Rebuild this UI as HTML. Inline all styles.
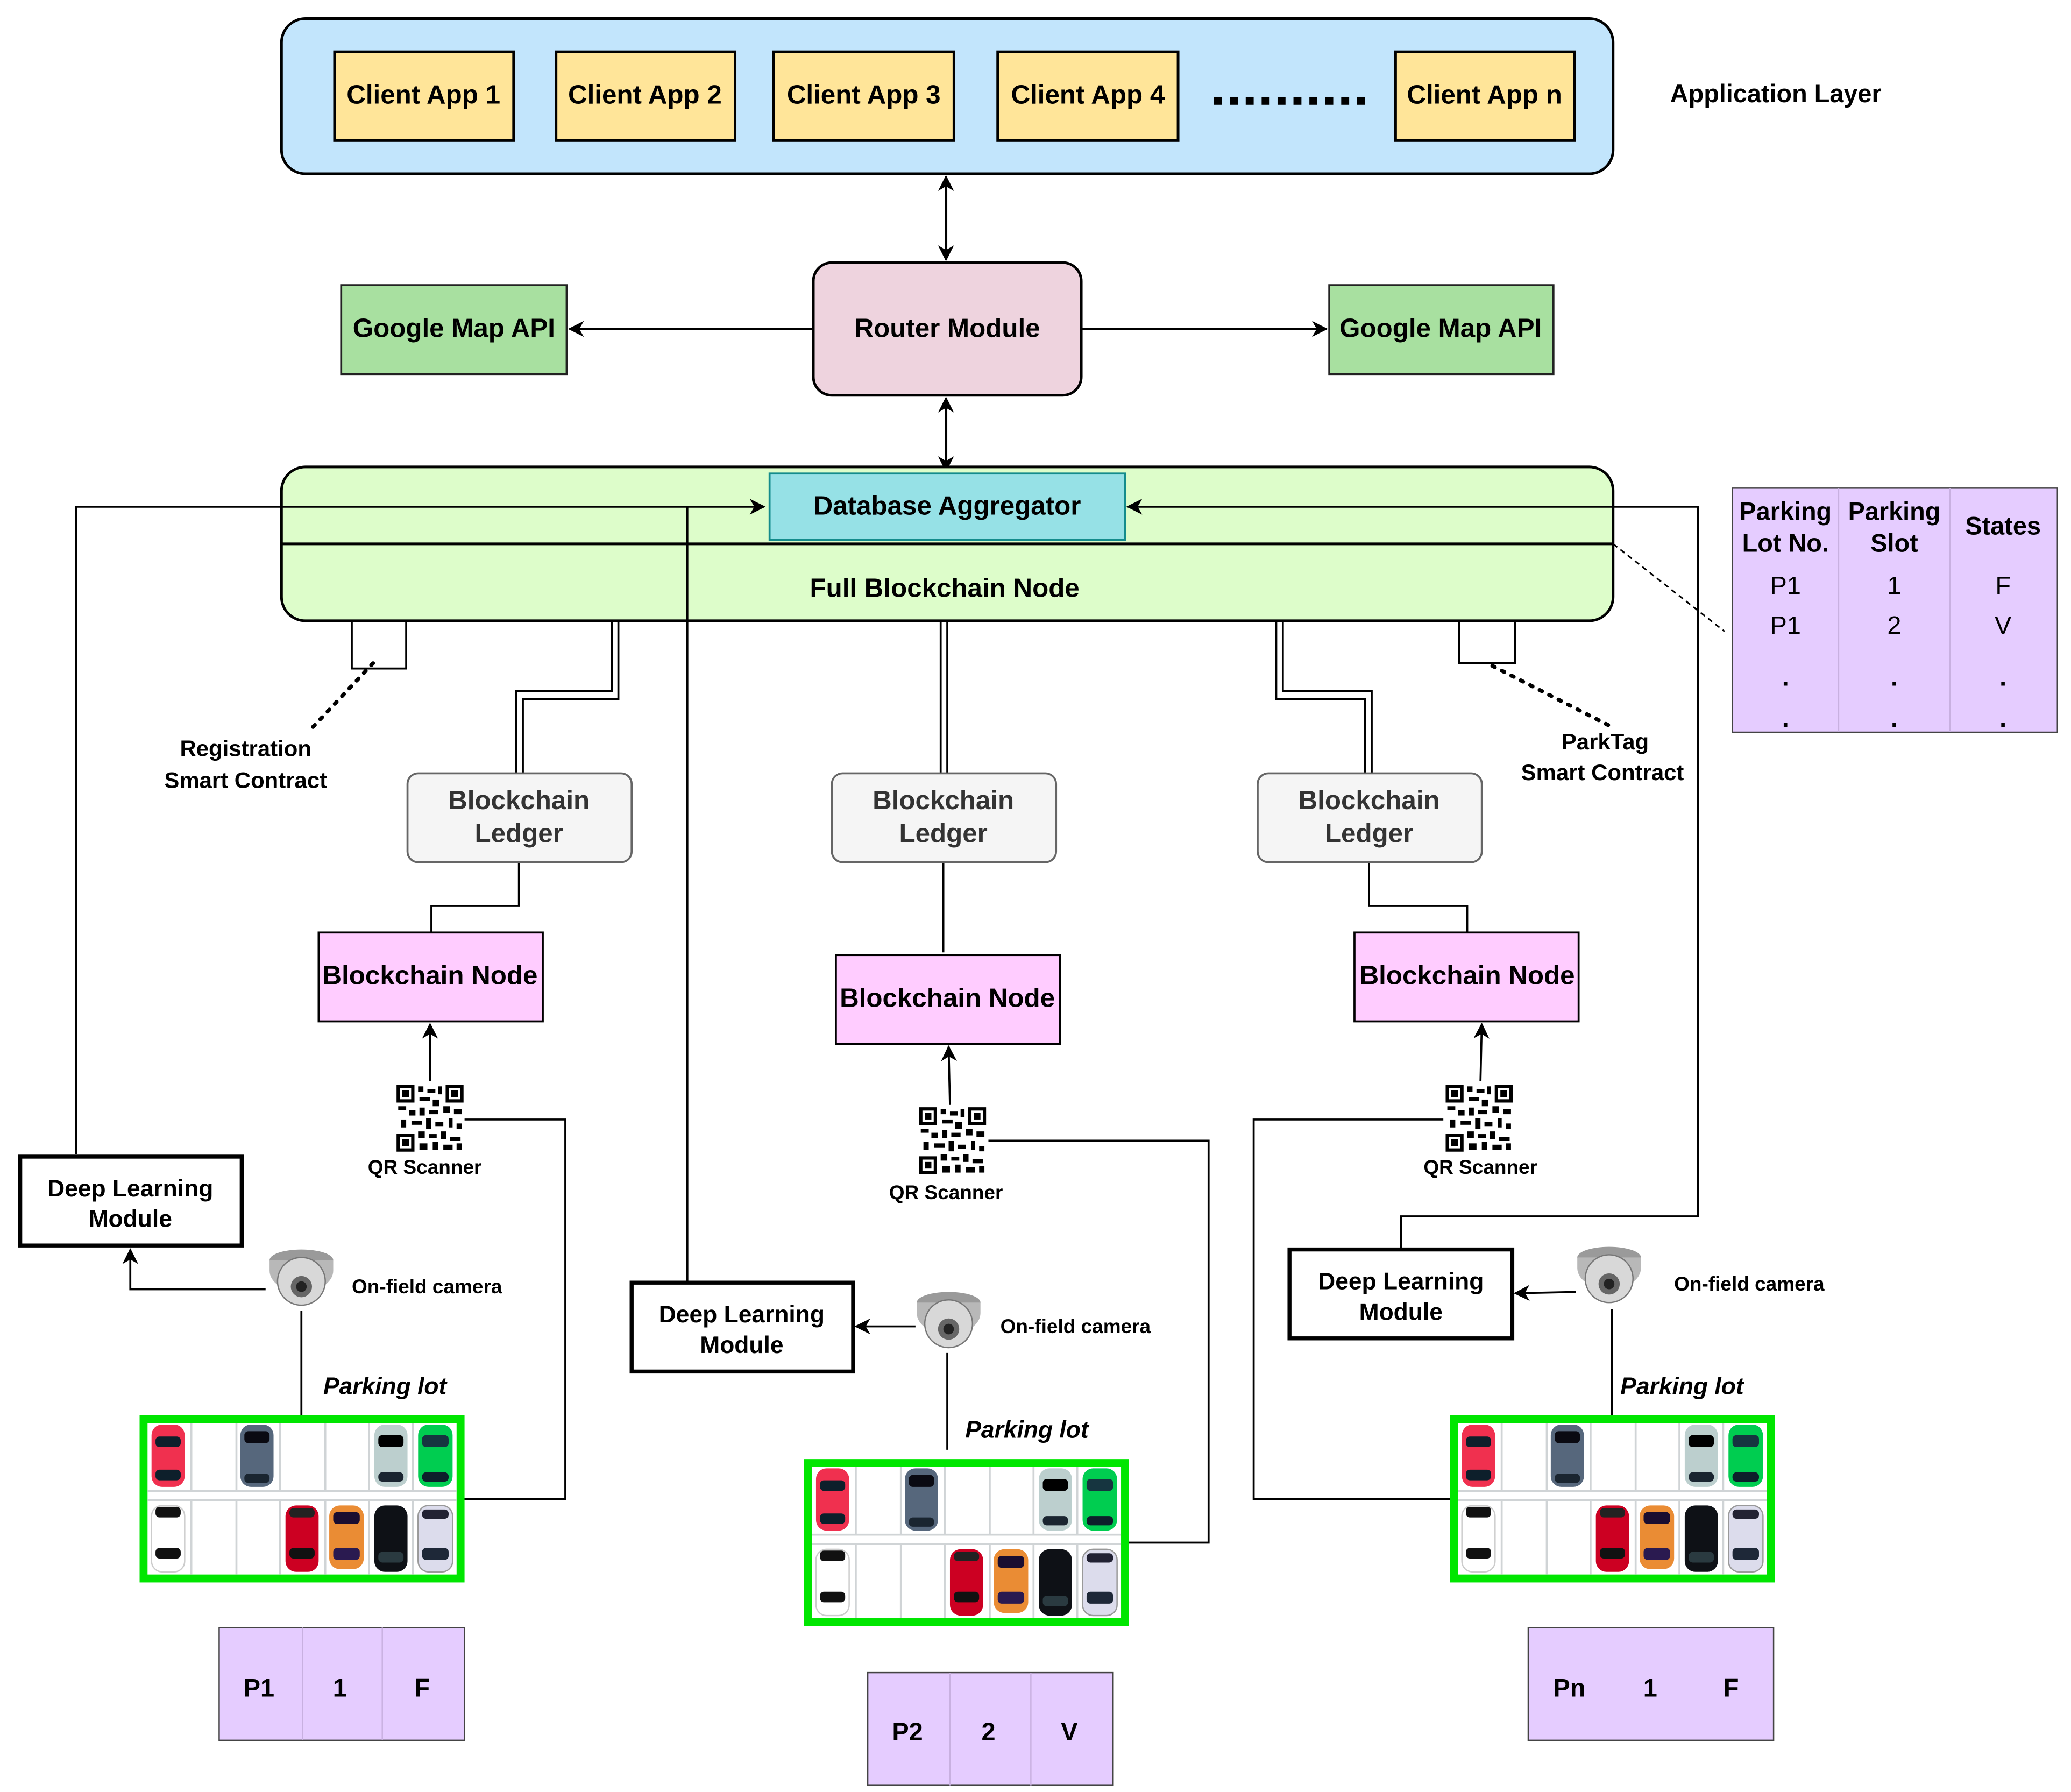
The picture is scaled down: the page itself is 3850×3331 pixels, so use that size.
<!DOCTYPE html>
<html><head><meta charset="utf-8"><style>html,body{margin:0;padding:0;background:#fff}svg{display:block}text{font-family:"Liberation Sans",sans-serif;font-weight:bold;fill:#000}</style></head><body>
<svg width="3850" height="3331" viewBox="0 0 1561 1351" xmlns="http://www.w3.org/2000/svg">
<defs>
<marker id="ar" markerWidth="12" markerHeight="12" refX="11" refY="6" orient="auto-start-reverse" markerUnits="userSpaceOnUse"><path d="M0,0 L12,6 L0,12 L3.5,6 Z" fill="#000"/></marker>
<g id="lot">
<rect x="3" y="3" width="239" height="120" fill="#fff" stroke="#00e600" stroke-width="6"/>
<g stroke="#d0d4d6" stroke-width="1.5">
<line x1="6" y1="57" x2="239" y2="57"/><line x1="6" y1="64" x2="239" y2="64"/>
<line x1="39" y1="6" x2="39" y2="57"/><line x1="73" y1="6" x2="73" y2="57"/><line x1="106" y1="6" x2="106" y2="57"/><line x1="140" y1="6" x2="140" y2="57"/><line x1="173" y1="6" x2="173" y2="57"/><line x1="206" y1="6" x2="206" y2="57"/>
<line x1="39" y1="64" x2="39" y2="120"/><line x1="73" y1="64" x2="73" y2="120"/><line x1="106" y1="64" x2="106" y2="120"/><line x1="140" y1="64" x2="140" y2="120"/><line x1="173" y1="64" x2="173" y2="120"/><line x1="206" y1="64" x2="206" y2="120"/>
</g>
<rect x="9" y="7" width="25" height="47" rx="8" fill="#f0304f"/><rect x="12" y="16" width="19" height="8" rx="3" fill="#0d1f2b"/><rect x="12" y="41" width="19" height="8" rx="3" fill="#0d1f2b"/>
<rect x="76" y="7" width="25" height="47" rx="8" fill="#56677c"/><rect x="79" y="12" width="19" height="9" rx="3" fill="#0a0a12"/><rect x="79" y="44" width="19" height="7" rx="3" fill="#1a2530"/>
<rect x="177" y="7" width="25" height="47" rx="8" fill="#bccfce"/><rect x="180" y="15" width="19" height="9" rx="3" fill="#000"/><rect x="180" y="43" width="19" height="7" rx="3" fill="#1a2530"/>
<rect x="210" y="7" width="26" height="47" rx="8" fill="#00cd50"/><rect x="213" y="15" width="20" height="9" rx="3" fill="#163540"/><rect x="213" y="43" width="20" height="7" rx="3" fill="#0d1f2b"/>
<rect x="9" y="68" width="25" height="50" rx="8" fill="#fff" stroke="#ccc"/><rect x="12" y="69" width="19" height="8" rx="3" fill="#111"/><rect x="12" y="100" width="19" height="8" rx="3" fill="#111"/>
<rect x="110" y="68" width="25" height="50" rx="8" fill="#cc0022"/><rect x="113" y="70" width="19" height="7" rx="3" fill="#222"/><rect x="113" y="100" width="19" height="8" rx="3" fill="#111"/>
<rect x="143" y="68" width="26" height="48" rx="8" fill="#ea8c34"/><rect x="146" y="73" width="20" height="9" rx="3" fill="#1a0d30"/><rect x="146" y="100" width="20" height="9" rx="3" fill="#2a1a50"/>
<rect x="177" y="68" width="25" height="50" rx="8" fill="#0e1116"/><rect x="180" y="103" width="19" height="8" rx="3" fill="#2a3a40"/>
<rect x="210" y="68" width="26" height="50" rx="8" fill="#dcdcec" stroke="#999"/><rect x="213" y="71" width="20" height="7" rx="3" fill="#223"/><rect x="213" y="100" width="20" height="9" rx="3" fill="#1e2838"/>
</g>
<g id="qr">
<rect x="0" y="0" width="52" height="52" fill="#fff"/>
<g fill="none" stroke="#000" stroke-width="2.5"><rect x="2" y="2" width="11" height="11"/><rect x="39" y="2" width="11" height="11"/><rect x="2" y="39" width="11" height="11"/></g>
<g fill="#000"><rect x="5" y="5" width="5" height="5"/><rect x="42" y="5" width="5" height="5"/><rect x="5" y="42" width="5" height="5"/>
<rect x="17" y="2" width="4" height="4"/><rect x="24" y="4" width="6" height="3"/><rect x="32" y="2" width="3" height="6"/><rect x="18" y="10" width="8" height="3"/><rect x="28" y="12" width="5" height="5"/>
<rect x="2" y="17" width="6" height="3"/><rect x="10" y="20" width="5" height="4"/><rect x="18" y="18" width="4" height="6"/><rect x="25" y="20" width="7" height="3"/><rect x="36" y="17" width="5" height="5"/><rect x="44" y="19" width="6" height="4"/>
<rect x="4" y="27" width="4" height="6"/><rect x="12" y="28" width="8" height="3"/><rect x="23" y="26" width="4" height="8"/><rect x="30" y="29" width="6" height="3"/><rect x="40" y="26" width="3" height="7"/><rect x="46" y="30" width="4" height="4"/>
<rect x="17" y="36" width="5" height="5"/><rect x="25" y="38" width="6" height="3"/><rect x="34" y="36" width="4" height="6"/><rect x="41" y="40" width="8" height="3"/><rect x="18" y="45" width="6" height="5"/><rect x="28" y="44" width="4" height="6"/><rect x="36" y="46" width="7" height="4"/><rect x="46" y="45" width="4" height="5"/></g>
</g>
<g id="cam">
<ellipse cx="0" cy="-12" rx="24" ry="8" fill="#9a9a9a"/>
<path d="M-24,-12 L-24,-4 A24,16 0 0 0 24,-4 L24,-12 Z" fill="#b8b8b8"/>
<ellipse cx="0" cy="4" rx="18" ry="18" fill="#d8d8d8" stroke="#777" stroke-width="1"/>
<circle cx="0" cy="8" r="8" fill="#666"/><circle cx="0" cy="8" r="4" fill="#222"/>
</g>
</defs>

<rect x="212" y="14" width="1004" height="117" rx="18" fill="#c2e5fc" stroke="#000" stroke-width="2"/>
<g fill="#ffe599" stroke="#000" stroke-width="2">
<rect x="252" y="39" width="135" height="67"/><rect x="419" y="39" width="135" height="67"/><rect x="583" y="39" width="136" height="67"/><rect x="752" y="39" width="136" height="67"/><rect x="1052" y="39" width="135" height="67"/>
</g>
<g font-size="20" text-anchor="middle">
<text x="319" y="78">Client App 1</text><text x="486" y="78">Client App 2</text><text x="651" y="78">Client App 3</text><text x="820" y="78">Client App 4</text><text x="1119" y="78">Client App n</text>
</g>
<g fill="#000"><rect x="915" y="73" width="6" height="6"/><rect x="927" y="73" width="6" height="6"/><rect x="939" y="73" width="6" height="6"/><rect x="951" y="73" width="6" height="6"/><rect x="963" y="73" width="6" height="6"/><rect x="975" y="73" width="6" height="6"/><rect x="987" y="73" width="6" height="6"/><rect x="999" y="73" width="6" height="6"/><rect x="1011" y="73" width="6" height="6"/><rect x="1023" y="73" width="6" height="6"/></g>
<text x="1259" y="77" font-size="19">Application Layer</text>

<line x1="713" y1="133" x2="713" y2="196" stroke="#000" stroke-width="2" marker-start="url(#ar)" marker-end="url(#ar)"/>
<rect x="613" y="198" width="202" height="100" rx="14" fill="#eed3de" stroke="#000" stroke-width="2"/>
<text x="714" y="254" font-size="20" text-anchor="middle">Router Module</text>
<rect x="257" y="215" width="170" height="67" fill="#a8e0a0" stroke="#222" stroke-width="1.5"/>
<rect x="1002" y="215" width="169" height="67" fill="#a8e0a0" stroke="#222" stroke-width="1.5"/>
<text x="342" y="254" font-size="20" text-anchor="middle">Google Map API</text>
<text x="1086" y="254" font-size="20" text-anchor="middle">Google Map API</text>
<line x1="613" y1="248" x2="429" y2="248" stroke="#000" stroke-width="1.5" marker-end="url(#ar)"/>
<line x1="815" y1="248" x2="1000" y2="248" stroke="#000" stroke-width="1.5" marker-end="url(#ar)"/>
<line x1="713" y1="300" x2="713" y2="355" stroke="#000" stroke-width="2" marker-start="url(#ar)" marker-end="url(#ar)"/>

<rect x="212" y="352" width="1004" height="116" rx="18" fill="#ddfdca" stroke="#000" stroke-width="2"/>
<line x1="212" y1="410" x2="1216" y2="410" stroke="#000" stroke-width="2"/>
<text x="712" y="450" font-size="20" text-anchor="middle">Full Blockchain Node</text>
<rect x="580" y="357" width="268" height="50" fill="#96e1e6" stroke="#148c8c" stroke-width="1.5"/>
<text x="714" y="388" font-size="20" text-anchor="middle">Database Aggregator</text>

<g fill="none" stroke="#000" stroke-width="1.5">
<polyline points="57,870 57,382 576,382" marker-end="url(#ar)"/>
<line x1="518" y1="382" x2="518" y2="967"/>
<polyline points="1056,942 1056,917 1280,917 1280,382 850,382" marker-end="url(#ar)"/>
<polyline points="265,468 265,504 306,504 306,468"/>
<polyline points="1100,468 1100,500 1142,500 1142,468"/>
<polyline points="461,468 461,521 389,521 389,583"/><polyline points="466,468 466,527 394,527 394,583"/>
<line x1="709" y1="468" x2="709" y2="583"/><line x1="714" y1="468" x2="714" y2="583"/>
<polyline points="962,468 962,527 1029,527 1029,583"/><polyline points="967,468 967,521 1034,521 1034,583"/>
<polyline points="391,650 391,683 325,683 325,703"/>
<line x1="711" y1="650" x2="711" y2="718"/>
<polyline points="1032,650 1032,683 1106,683 1106,703"/>
<polyline points="350,844 426,844 426,1130 348,1130"/>
<polyline points="745,860 911,860 911,1163 848,1163"/>
<polyline points="1088,844 945,844 945,1130 1093,1130"/>
<line x1="324" y1="815" x2="324" y2="772" marker-end="url(#ar)"/>
<line x1="716" y1="833" x2="715" y2="789" marker-end="url(#ar)"/>
<line x1="1116" y1="815" x2="1117" y2="772" marker-end="url(#ar)"/>
<polyline points="200,972 98,972 98,942" marker-end="url(#ar)"/>
<line x1="690" y1="1000" x2="645" y2="1000" marker-end="url(#ar)"/>
<line x1="1188" y1="974" x2="1142" y2="975" marker-end="url(#ar)"/>
<line x1="227" y1="988" x2="227" y2="1067"/>
<line x1="714" y1="1020" x2="714" y2="1093"/>
<line x1="1215" y1="987" x2="1215" y2="1067"/>
</g>
<line x1="281" y1="500" x2="232" y2="552" stroke="#000" stroke-width="3" stroke-dasharray="2,6" stroke-linecap="round"/>
<line x1="1125" y1="502" x2="1215" y2="548" stroke="#000" stroke-width="3" stroke-dasharray="2,6" stroke-linecap="round"/>
<line x1="1216" y1="410" x2="1300" y2="476" stroke="#000" stroke-width="1.2" stroke-dasharray="4,3"/>
<g font-size="17" text-anchor="middle">
<text x="185" y="570">Registration</text><text x="185" y="594">Smart Contract</text>
<text x="1210" y="565">ParkTag</text><text x="1208" y="588">Smart Contract</text>
</g>

<rect x="1306" y="368" width="245" height="184" fill="#e5ccff" stroke="#444" stroke-width="1"/>
<line x1="1386" y1="368" x2="1386" y2="552" stroke="#c8b0e0"/><line x1="1470" y1="368" x2="1470" y2="552" stroke="#c8b0e0"/>
<g font-size="19" text-anchor="middle">
<text x="1346" y="392">Parking</text><text x="1346" y="416">Lot No.</text>
<text x="1428" y="392">Parking</text><text x="1428" y="416">Slot</text>
<text x="1510" y="403">States</text>
</g>
<g font-size="19" text-anchor="middle">
<text x="1346" y="448" style="font-weight:normal">P1</text><text x="1428" y="448" style="font-weight:normal">1</text><text x="1510" y="448" style="font-weight:normal">F</text>
<text x="1346" y="478" style="font-weight:normal">P1</text><text x="1428" y="478" style="font-weight:normal">2</text><text x="1510" y="478" style="font-weight:normal">V</text>
<text x="1346" y="517">.</text><text x="1428" y="517">.</text><text x="1510" y="517">.</text>
<text x="1346" y="548">.</text><text x="1428" y="548">.</text><text x="1510" y="548">.</text>
</g>

<g fill="#f5f5f5" stroke="#666" stroke-width="1.5">
<rect x="307" y="583" width="169" height="67" rx="8"/><rect x="627" y="583" width="169" height="67" rx="8"/><rect x="948" y="583" width="169" height="67" rx="8"/>
</g>
<g font-size="20" text-anchor="middle">
<text x="391" y="610" style="fill:#333">Blockchain</text><text x="391" y="635" style="fill:#333">Ledger</text>
<text x="711" y="610" style="fill:#333">Blockchain</text><text x="711" y="635" style="fill:#333">Ledger</text>
<text x="1032" y="610" style="fill:#333">Blockchain</text><text x="1032" y="635" style="fill:#333">Ledger</text>
</g>
<g fill="#ffccff" stroke="#000" stroke-width="1.5">
<rect x="240" y="703" width="169" height="67"/><rect x="630" y="720" width="169" height="67"/><rect x="1021" y="703" width="169" height="67"/>
</g>
<g font-size="20" text-anchor="middle">
<text x="324" y="742">Blockchain Node</text><text x="714" y="759">Blockchain Node</text><text x="1106" y="742">Blockchain Node</text>
</g>

<use href="#qr" x="298" y="817"/><use href="#qr" x="692" y="834"/><use href="#qr" x="1089" y="817"/>
<g font-size="15" text-anchor="middle">
<text x="320" y="885">QR Scanner</text><text x="713" y="904">QR Scanner</text><text x="1116" y="885">QR Scanner</text>
</g>

<g fill="#fff" stroke="#000" stroke-width="3">
<rect x="15" y="872" width="167" height="67"/><rect x="476" y="967" width="167" height="67"/><rect x="972" y="942" width="168" height="67"/>
</g>
<g font-size="18" text-anchor="middle">
<text x="98" y="902">Deep Learning</text><text x="98" y="925">Module</text>
<text x="559" y="997">Deep Learning</text><text x="559" y="1020">Module</text>
<text x="1056" y="972">Deep Learning</text><text x="1056" y="995">Module</text>
</g>

<use href="#cam" x="227" y="962"/><use href="#cam" x="715" y="994"/><use href="#cam" x="1213" y="960"/>
<g font-size="15">
<text x="265" y="975">On-field camera</text><text x="754" y="1005">On-field camera</text><text x="1262" y="973">On-field camera</text>
</g>
<g font-size="18" font-style="italic" text-anchor="middle">
<text x="290" y="1051">Parking lot</text><text x="774" y="1084">Parking lot</text><text x="1268" y="1051">Parking lot</text>
</g>

<use href="#lot" x="105" y="1067"/><use href="#lot" x="606" y="1100"/><use href="#lot" x="1093" y="1067"/>

<g fill="#e5ccff" stroke="#444" stroke-width="1">
<rect x="165" y="1227" width="185" height="85"/><rect x="654" y="1261" width="185" height="85"/><rect x="1152" y="1227" width="185" height="85"/>
</g>
<g stroke="#c8b0e0"><line x1="228" y1="1227" x2="228" y2="1312"/><line x1="288" y1="1227" x2="288" y2="1312"/><line x1="716" y1="1261" x2="716" y2="1346"/><line x1="777" y1="1261" x2="777" y2="1346"/></g>
<g font-size="19" text-anchor="middle">
<text x="195" y="1279">P1</text><text x="256" y="1279">1</text><text x="318" y="1279">F</text>
<text x="684" y="1312">P2</text><text x="745" y="1312">2</text><text x="806" y="1312">V</text>
<text x="1183" y="1279">Pn</text><text x="1244" y="1279">1</text><text x="1305" y="1279">F</text>
</g>
</svg>
</body></html>
